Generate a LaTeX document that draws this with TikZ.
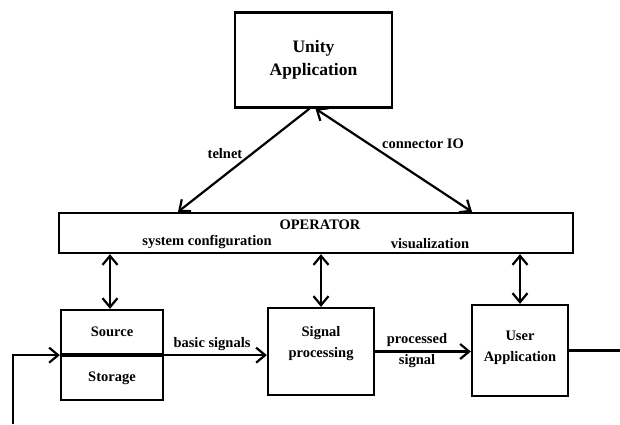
\documentclass[tikz,border=0pt]{standalone}
\usepackage{fontspec}
\setmainfont{Liberation Serif}
\usetikzlibrary{arrows.meta,calc}
\begin{document}
\begin{tikzpicture}[x=1pt,y=-1pt,
  box/.style={draw,line width=2.3pt,inner sep=0pt,font=\bfseries\fontsize{14.5}{21}\selectfont,align=center},
  lbl/.style={inner sep=0pt,font=\bfseries\fontsize{14.5}{21}\selectfont,align=center},
  conn/.style={line width=2.2pt,-{Straight Barb[length=9pt,width=15pt,line width=2.2pt]}},
  dconn/.style={line width=2.2pt,{Straight Barb[length=9pt,width=15pt,line width=2.2pt]}-{Straight Barb[length=9pt,width=15pt,line width=2.2pt]}},
  plain/.style={line width=2.2pt}]
\useasboundingbox (0,0) rectangle (620,424);
\node[box,minimum width=157pt,minimum height=95pt,font=\bfseries\fontsize{17.5}{23}\selectfont] (unity) at (313.5,60) {Unity\\Application};
\node[box,minimum width=514pt,minimum height=40pt] (operator) at (316,233) {};
\node[lbl] (optxt) at (320,225) {OPERATOR};
\node[lbl] (syscfg) at (207,242) {system configuration};
\node[lbl] (vis) at (430,244) {visualization};
\node[box,minimum width=102pt,minimum height=44pt] (srctop) at (112,332) {Source};
\node[box,minimum width=102pt,minimum height=44pt,anchor=north] (srcbot) at (srctop.south) {Storage};
\node[box,minimum width=106pt,minimum height=87pt] (sig) at (321,351.5) {};
\node[lbl] (sigtxt) at (321,344) {Signal\\processing};
\node[box,minimum width=96pt,minimum height=91pt] (user) at (520,350.5) {};
\node[lbl] (usertxt) at (520,348) {User\\Application};
\node[lbl] (telnet) at (225,154) {telnet};
\node[lbl] (cio) at (423,144) {connector IO};
\node[lbl] (basic) at (212,344) {basic signals};
\node[lbl] (proc) at (417,350.5) {processed\\signal};
\coordinate (in) at (13,424);
\coordinate (out) at (620,350.5);
% connectors
\draw[conn] ([xshift=-4pt]unity.south) -- (operator.north -| 178,0);
\draw[dconn] ([xshift=2pt]unity.south) -- (operator.north -| 472,0);
\draw[dconn] (operator.south -| 110,0) -- (srctop.north -| 110,0);
\draw[dconn] (operator.south -| sig.north) -- (sig.north);
\draw[dconn] (operator.south -| user.north) -- (user.north);
\draw[conn] (in) |- (srctop.south west);
\draw[conn] (srctop.south east) -- (srctop.south east -| sig.west);
\draw[conn] (sig.east) -- (sig.east -| user.west);
\draw[plain] (user.east) -- (out);
\end{tikzpicture}
\end{document}
